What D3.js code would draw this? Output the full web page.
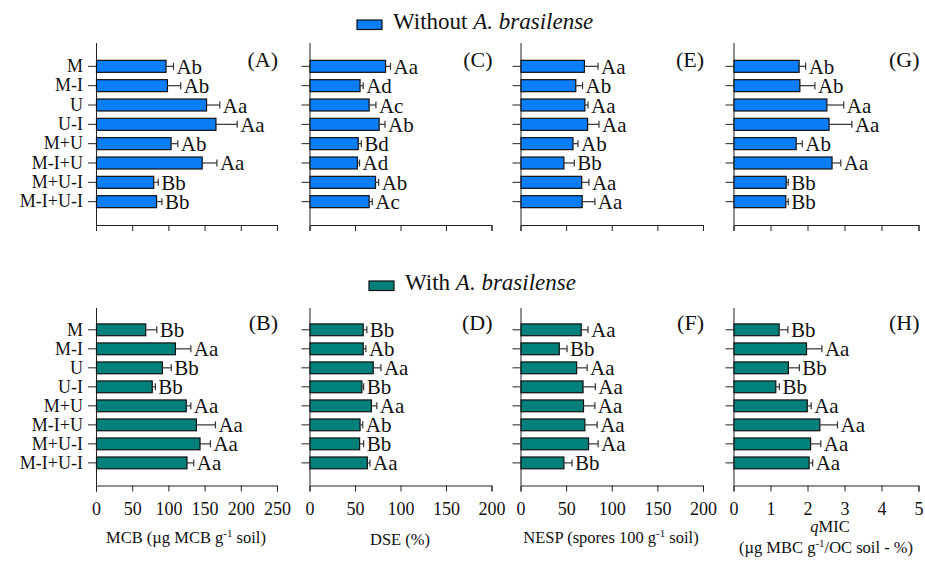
<!doctype html>
<html>
<head>
<meta charset="UTF-8">
<script src="https://d3js.org/d3.v7.min.js"></script>
</head>
<body style="margin:0">
<script>
var categories = ["M", "M-I", "U", "U-I", "M+U", "M-I+U", "M+U-I", "M-I+U-I"];

// without A. brasilense
var mcbWithout = [96, 98, 152, 165, 103, 146, 79, 83];
var mcbWithoutErr = [11, 19, 19, 30, 10, 21, 7, 8];
var mcbWithoutLetters = ["Ab", "Ab", "Aa", "Aa", "Ab", "Aa", "Bb", "Bb"];
var dseWithout = [83, 55, 65, 76, 53, 52, 72, 65];
var dseWithoutErr = [6, 4, 8, 7, 4, 3, 4, 4];
var dseWithoutLetters = ["Aa", "Ad", "Ac", "Ab", "Bd", "Ad", "Ab", "Ac"];
var nespWithout = [69.5, 60, 70, 73, 57, 47, 66.5, 67];
var nespWithoutErr = [15.5, 8, 4, 13, 6, 12, 8.5, 14.5];
var nespWithoutLetters = ["Aa", "Ab", "Aa", "Aa", "Ab", "Bb", "Aa", "Aa"];
var qmicWithout = [1.76, 1.78, 2.51, 2.57, 1.68, 2.65, 1.41, 1.40];
var qmicWithoutErr = [0.19, 0.42, 0.47, 0.63, 0.18, 0.25, 0.07, 0.08];
var qmicWithoutLetters = ["Ab", "Ab", "Aa", "Aa", "Ab", "Aa", "Bb", "Bb"];

// with A. brasilense
var mcbWith = [68, 109, 91, 77, 124, 138, 143, 125];
var mcbWithErr = [16, 22, 13, 5, 7, 27, 15, 10];
var mcbWithLetters = ["Bb", "Aa", "Bb", "Bb", "Aa", "Aa", "Aa", "Aa"];
var dseWith = [58.5, 58.5, 69.5, 57, 67.5, 55, 54.5, 63];
var dseWithErr = [4.5, 3.5, 9, 2.5, 6.5, 3.5, 5, 3.5];
var dseWithLetters = ["Bb", "Ab", "Aa", "Bb", "Aa", "Ab", "Bb", "Aa"];
var nespWith = [66, 42, 61, 68, 68.5, 70, 74, 47];
var nespWithErr = [8, 9, 12, 14, 13, 14, 11, 9.5];
var nespWithLetters = ["Aa", "Bb", "Aa", "Aa", "Aa", "Aa", "Aa", "Bb"];
var qmicWith = [1.22, 1.96, 1.47, 1.13, 1.98, 2.32, 2.07, 2.03];
var qmicWithErr = [0.25, 0.43, 0.31, 0.11, 0.12, 0.49, 0.29, 0.11];
var qmicWithLetters = ["Bb", "Aa", "Bb", "Bb", "Aa", "Aa", "Aa", "Aa"];

var mcbTicks = [0, 50, 100, 150, 200, 250];
var pctTicks = [0, 50, 100, 150, 200];
var qmicTicks = [0, 1, 2, 3, 4, 5];

var blue = "#0a7df8", teal = "#00807a";
var W = 925, H = 563;
var FONT = "Times New Roman";

var svg = d3.select("body").append("svg").attr("width", W).attr("height", H)
  .attr("font-family", FONT);

// column x ranges and row y geometry
var cols = [[96, 277], [309.5, 491.5], [520.5, 703], [733.5, 918.5]];
var rows = [
  {top: 43, band: [53, 215], axis: 225, color: blue},
  {top: 308, band: [316.7, 476], axis: 485.5, color: teal}
];

var panels = [
  {row: 0, col: 0, label: "(A)", v: mcbWithout, e: mcbWithoutErr, l: mcbWithoutLetters, max: 250, ticks: mcbTicks},
  {row: 0, col: 1, label: "(C)", v: dseWithout, e: dseWithoutErr, l: dseWithoutLetters, max: 200, ticks: pctTicks},
  {row: 0, col: 2, label: "(E)", v: nespWithout, e: nespWithoutErr, l: nespWithoutLetters, max: 200, ticks: pctTicks},
  {row: 0, col: 3, label: "(G)", v: qmicWithout, e: qmicWithoutErr, l: qmicWithoutLetters, max: 5, ticks: qmicTicks},
  {row: 1, col: 0, label: "(B)", v: mcbWith, e: mcbWithErr, l: mcbWithLetters, max: 250, ticks: mcbTicks},
  {row: 1, col: 1, label: "(D)", v: dseWith, e: dseWithErr, l: dseWithLetters, max: 200, ticks: pctTicks},
  {row: 1, col: 2, label: "(F)", v: nespWith, e: nespWithErr, l: nespWithLetters, max: 200, ticks: pctTicks},
  {row: 1, col: 3, label: "(H)", v: qmicWith, e: qmicWithErr, l: qmicWithLetters, max: 5, ticks: qmicTicks}
];

// every text gets its own family attribute and a px font size
function txt(sel, size){
  return sel.attr("font-family", FONT).style("font-family", FONT)
    .style("font-size", size + "px").attr("fill", "#111");
}

panels.forEach(function(p){
  var r = rows[p.row];
  var x = d3.scaleLinear().domain([0, p.max]).range(cols[p.col]);
  var y = d3.scaleBand().domain(categories).range(r.band).padding(0.38);
  var g = svg.append("g");

  // x axis, labels only on the bottom row
  var xa = g.append("g").attr("transform", "translate(0," + r.axis + ")")
    .call(d3.axisBottom(x).tickValues(p.ticks).tickSize(6).tickFormat(d3.format("d")));
  xa.attr("font-family", FONT).attr("font-size", null);
  xa.selectAll("line, path").attr("stroke", "#222");
  if (p.row == 1) {
    txt(xa.selectAll("text"), 18).attr("y", 17);
  } else {
    xa.selectAll("text").remove();
  }

  // y axis, category names only in the first column
  var ya = g.append("g").attr("transform", "translate(" + cols[p.col][0] + ",0)")
    .call(d3.axisLeft(y).tickSize(8).tickSizeOuter(0));
  ya.attr("font-family", FONT).attr("font-size", null);
  ya.select(".domain").remove();
  ya.selectAll("line").attr("stroke", "#222");
  if (p.col == 0) {
    txt(ya.selectAll("text"), 18).attr("x", -13);
  } else {
    ya.selectAll("text").remove();
  }
  g.append("line").attr("x1", cols[p.col][0] + 0.5).attr("x2", cols[p.col][0] + 0.5)
    .attr("y1", r.top).attr("y2", r.axis).attr("stroke", "#222");

  // bars
  g.selectAll("rect.bar").data(p.v).enter().append("rect")
    .attr("class", "bar")
    .attr("x", x(0) + 0.5)
    .attr("y", function(d, i){ return y(categories[i]); })
    .attr("width", function(d){ return x(d) - x(0); })
    .attr("height", y.bandwidth())
    .attr("fill", r.color).attr("stroke", "#111").attr("stroke-width", 1.2);

  // error bars
  g.selectAll("line.err").data(p.v).enter().append("line")
    .attr("class", "err")
    .attr("x1", function(d){ return x(d); })
    .attr("x2", function(d, i){ return x(d + p.e[i]); })
    .attr("y1", function(d, i){ return y(categories[i]) + y.bandwidth() / 2; })
    .attr("y2", function(d, i){ return y(categories[i]) + y.bandwidth() / 2; })
    .attr("stroke", "#333").attr("stroke-width", 1.2);
  g.selectAll("line.cap").data(p.v).enter().append("line")
    .attr("class", "cap")
    .attr("x1", function(d, i){ return x(d + p.e[i]); })
    .attr("x2", function(d, i){ return x(d + p.e[i]); })
    .attr("y1", function(d, i){ return y(categories[i]) + y.bandwidth() / 2 - 3.5; })
    .attr("y2", function(d, i){ return y(categories[i]) + y.bandwidth() / 2 + 3.5; })
    .attr("stroke", "#333").attr("stroke-width", 1.2);

  // letters
  txt(g.selectAll("text.let").data(p.v).enter().append("text"), 21)
    .attr("class", "let")
    .attr("x", function(d, i){ return x(d + p.e[i]) + 3; })
    .attr("y", function(d, i){ return y(categories[i]) + y.bandwidth() / 2 + 7.5; })
    .text(function(d, i){ return p.l[i]; });

  // panel label
  txt(g.append("text"), 22).attr("x", cols[p.col][1] + 1).attr("y", p.row == 0 ? 67 : 330)
    .attr("text-anchor", "end").text(p.label);
});

// legends
function legend(yy, sx, color, word){
  svg.append("rect").attr("x", sx).attr("y", yy - 9).attr("width", 25).attr("height", 9.5)
    .attr("fill", color).attr("stroke", "#111").attr("stroke-width", 1.2);
  var t = txt(svg.append("text"), 23).attr("x", sx + 36).attr("y", yy);
  t.append("tspan").text(word + " ");
  t.append("tspan").attr("font-style", "italic").text("A. brasilense");
}
legend(29, 357, blue, "Without");
legend(290, 369, teal, "With");

// axis titles
function title(cx, yy, parts){
  var t = txt(svg.append("text"), 16.5).attr("x", cx).attr("y", yy).attr("text-anchor", "middle");
  parts.forEach(function(s){
    var sp = t.append("tspan").text(s.t);
    if (s.sup) sp.attr("dy", -6).style("font-size", "11px");
    if (s.down) sp.attr("dy", 6);
    if (s.it) sp.attr("font-style", "italic");
  });
}
title(186, 543, [{t: "MCB (\u00b5g MCB g"}, {t: "-1", sup: true}, {t: " soil)", down: true}]);
title(400, 545, [{t: "DSE (%)"}]);
title(611, 543, [{t: "NESP (spores 100 g"}, {t: "-1", sup: true}, {t: " soil)", down: true}]);
title(830, 532, [{t: "q", it: true}, {t: "MIC"}]);
title(826, 553, [{t: "(\u00b5g MBC g"}, {t: "-1", sup: true}, {t: "/OC soil - %)", down: true}]);
</script>
</body>
</html>
